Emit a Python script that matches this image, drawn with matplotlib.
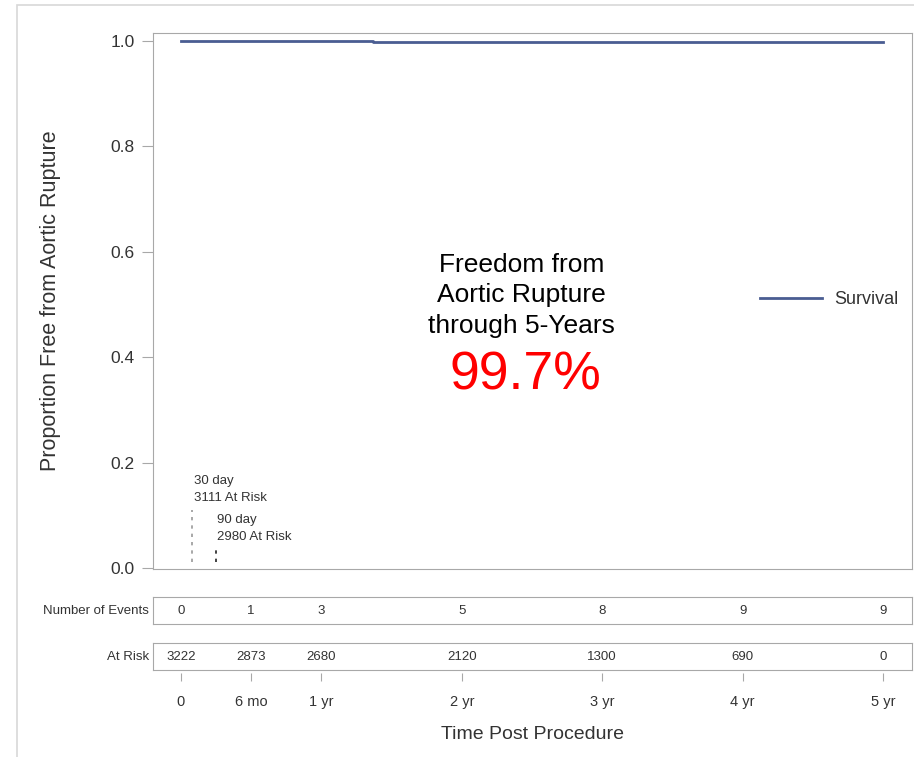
import matplotlib
matplotlib.use("Agg")
import matplotlib.pyplot as plt
from matplotlib.patches import Rectangle

# Kaplan-Meier style survival estimate (months)
step_months = [0, 16.4, 32.4, 60]
step_survival = [1.0, 0.9985, 0.997, 0.997]

# Risk table
tick_months = [0, 6, 12, 24, 36, 48, 60]
tick_labels = ["0", "6 mo", "1 yr", "2 yr", "3 yr", "4 yr", "5 yr"]
num_events = [0, 1, 3, 5, 8, 9, 9]
at_risk = [3222, 2873, 2680, 2120, 1300, 690, 0]

# Early time-point annotations
early_days = [30, 90]
early_at_risk = [3111, 2980]

W, H = 914, 757
plt.rcParams["font.family"] = ["Liberation Sans", "DejaVu Sans"]
fig = plt.figure(figsize=(W / 100, H / 100), dpi=100)

def fx(px):
    return px / W

def fy(py):
    return 1 - py / H

# outer frame
fig.patches.append(Rectangle((fx(17), -0.02), 1.0, fy(5) + 0.02,
                             transform=fig.transFigure, fill=False,
                             edgecolor="#d8d8d8", lw=1.2))

XMIN, XMAX = -2.39, 62.48
left, right = fx(153), fx(912)
grey = "#a8a8a8"
txt = "#333333"

ax = fig.add_axes([left, fy(569), right - left, fy(33) - fy(569)])
ax.set_xlim(XMIN, XMAX)
ax.set_ylim(-0.002, 1.015)
ax.step(step_months, step_survival, where="post", color="#4a5d92", lw=2,
        label="Survival")
for s in ax.spines.values():
    s.set_color(grey)
ax.set_xticks([])
ax.set_yticks([0.0, 0.2, 0.4, 0.6, 0.8, 1.0])
ax.set_yticklabels(["0.0", "0.2", "0.4", "0.6", "0.8", "1.0"])
ax.tick_params(axis="y", length=8, color=grey, labelsize=12.5,
               labelcolor=txt, pad=5)
ax.set_ylabel("Proportion Free from Aortic Rupture", fontsize=15.5,
              color=txt, labelpad=36)

# early time-point markers
early_tops = [0.110, 0.040]
early_text_y = [(0.165, 0.133), (0.091, 0.059)]
for d, n, top, (y1, y2), c in zip(early_days, early_at_risk, early_tops,
                                  early_text_y, ["#9a9a9a", "#222222"]):
    m = d / 30.4375
    ax.plot([m, m], [0.011, top], color=c, lw=1.2, ls=(0, (2, 3)))
    ax.text(m + 0.1, y1, f"{d} day", fontsize=9.5, color=txt,
            va="center", ha="left")
    ax.text(m + 0.1, y2, f"{n} At Risk", fontsize=9.5, color=txt,
            va="center", ha="left")

# centred summary text
ax.text(29.1, 0.517, "Freedom from\nAortic Rupture\nthrough 5-Years",
        fontsize=19, ha="center", va="center", linespacing=1.35,
        color="black")
ax.text(29.4, 0.366, "99.7%", fontsize=38.5, ha="center", va="center",
        color="#ff0000")

ax.legend(loc="center left", bbox_to_anchor=(0.80, 0.502), frameon=False,
          fontsize=13, handlelength=3.4, handletextpad=0.7, borderpad=0,
          borderaxespad=0, labelcolor=txt)

# risk table rows
def table_row(top_px, bot_px, label, values):
    a = fig.add_axes([left, fy(bot_px), right - left, fy(top_px) - fy(bot_px)])
    a.set_xlim(XMIN, XMAX)
    a.set_ylim(0, 1)
    a.set_xticks([])
    a.set_yticks([])
    for s in a.spines.values():
        s.set_color(grey)
    for m, v in zip(tick_months, values):
        a.text(m, 0.5, str(v), ha="center", va="center", fontsize=9.5,
               color=txt)
    a.text(-0.005, 0.5, label, transform=a.transAxes, ha="right",
           va="center", fontsize=9.5, color=txt)
    return a

table_row(597, 624, "Number of Events", num_events)
table_row(643, 670, "At Risk", at_risk)

# time axis below the table
tx = fig.add_axes([left, fy(673), right - left, 0.0001])
tx.set_xlim(XMIN, XMAX)
tx.set_yticks([])
for s in tx.spines.values():
    s.set_visible(False)
tx.set_xticks(tick_months)
tx.set_xticklabels(tick_labels)
tx.tick_params(axis="x", direction="out", length=6, color=grey,
               labelsize=10.5, labelcolor=txt, pad=10)
tx.set_xlabel("Time Post Procedure", fontsize=14, color=txt, labelpad=12)

fig.savefig("out.png", dpi=100)
